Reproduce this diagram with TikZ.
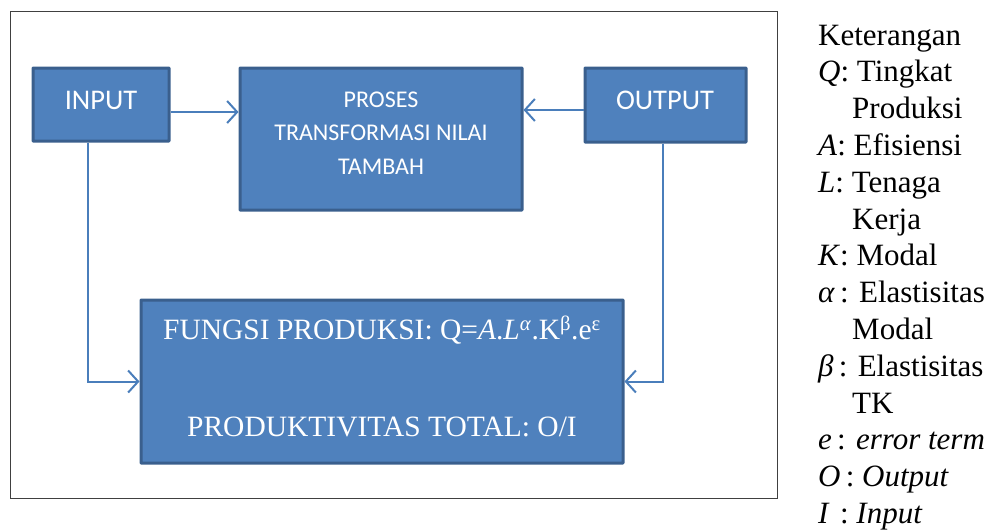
\documentclass[tikz,border=0pt]{standalone}
\usepackage{fontspec}
\setmainfont{Liberation Serif}
\newfontfamily\calibri{Carlito}
\usetikzlibrary{arrows.meta}
\definecolor{boxfill}{HTML}{4F81BD}
\definecolor{boxedge}{HTML}{3A5F8D}
\definecolor{linecol}{HTML}{4A7EBB}
\begin{document}
\begin{tikzpicture}[x=1pt,y=-1pt,
  bluebox/.style={draw=boxedge, fill=boxfill, line width=3pt, inner sep=0pt, rounded corners=0.5pt},
  boxtext/.style={text=white, align=center, inner sep=0pt},
  arr/.style={draw=linecol, line width=2pt, -{Straight Barb[length=10pt,width=22pt,line width=2pt]}},
  legend/.style={anchor=base west, font=\fontsize{31}{36}\selectfont, inner sep=0pt}]
\useasboundingbox (0,0) rectangle (995,531);
\draw[line width=0.9pt, draw=black!75] (10,11) rectangle (777,498);
% boxes
\node[bluebox, minimum width=136pt, minimum height=73pt] (in) at (101,104.5) {};
\node[bluebox, minimum width=282pt, minimum height=142pt] (pro) at (381,139) {};
\node[bluebox, minimum width=161pt, minimum height=74pt] (out) at (665.5,105) {};
\node[bluebox, minimum width=482pt, minimum height=163pt] (bot) at (382,381.5) {};
% texts
\node[boxtext, font=\calibri\fontsize{28.5}{34}\selectfont] (intext) at (101,100) {INPUT};
\node[boxtext, font=\calibri\fontsize{28.5}{34}\selectfont] (outtext) at (665,100) {OUTPUT};
\node[boxtext, font=\calibri\fontsize{24}{33.5}\selectfont] (protext) at (381,133) {PROSES\\TRANSFORMASI NILAI\\TAMBAH};
\node[boxtext, font=\fontsize{29.5}{34}\selectfont] (fungsi) at (382,330) {FUNGSI PRODUKSI: Q=\textit{A}.\textit{L}\textsuperscript{\textit{α}}.K\textsuperscript{β}.e\textsuperscript{ε}};
\node[boxtext, font=\fontsize{29.5}{34}\selectfont] (prod) at (382,427) {PRODUKTIVITAS TOTAL: O/I};
% connectors
\coordinate (ya) at (0,112);
\coordinate (yb) at (0,110);
\draw[arr] (in.east |- ya) -- (pro.west |- ya);
\draw[arr] (out.west |- yb) -- (pro.east |- yb);
\draw[arr] ([xshift=-13pt]in.south) |- (bot.west);
\draw[arr] ([xshift=-3pt]out.south) |- (bot.east);
% legend
\node[legend] (l1) at (818,45) {Keterangan};
\node[legend] (l2) at (818,81.8) {\textit{Q}: Tingkat};
\node[legend] (l3) at (852,118.6) {Produksi};
\node[legend] (l4) at (818,155.4) {\textit{A}: Efisiensi};
\node[legend] (l5) at (818,192.2) {\textit{L}: Tenaga};
\node[legend] (l6) at (852,229) {Kerja};
\node[legend] (l7) at (818,265.8) {\textit{K}: Modal};
\node[legend] (l8) at (818,302.6) {\textit{α}\,: Elastisitas};
\node[legend] (l9) at (852,339.4) {Modal};
\node[legend] (l10) at (818,376.2) {\textit{β}\,: Elastisitas};
\node[legend] (l11) at (852,413) {TK};
\node[legend] (l12) at (818,449.8) {\textit{e}\,: \textit{error term}};
\node[legend] (l13) at (818,486.6) {\textit{O}\,: \textit{Output}};
\node[legend] (l14) at (818,523.4) {\textit{I}\,\,: \textit{Input}};
\end{tikzpicture}
\end{document}
